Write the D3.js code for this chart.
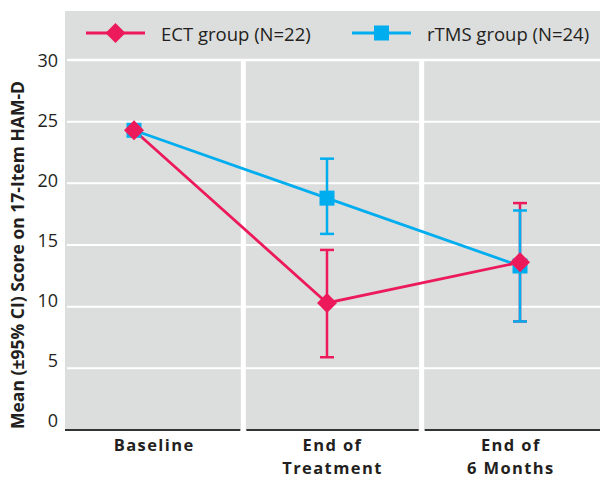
<!DOCTYPE html>
<html><head><meta charset="utf-8">
<script src="https://cdn.jsdelivr.net/npm/d3@7/dist/d3.min.js"></script>
<style>body{margin:0;background:#fff}svg{display:block}text{font-family:"Open Sans","Noto Sans",sans-serif;fill:#231f20}</style>
</head><body><svg id="c" width="600" height="479"></svg>
<script>
const categories = ["Baseline", "End of\nTreatment", "End of\n6 Months"];
const ectMean = [24.3, 10.3, 13.6];
const ectLow  = [24.3, 5.9, 8.8];
const ectHigh = [24.3, 14.6, 18.4];
const rtmsMean = [24.3, 18.8, 13.3];
const rtmsLow  = [24.3, 15.9, 8.8];
const rtmsHigh = [24.3, 22.0, 17.8];
const yTicks = [0, 5, 10, 15, 20, 25, 30];
const seriesNames = ["ECT group (N=22)", "rTMS group (N=24)"];

const svg = d3.select("#c");
const pLeft = 65, pRight = 600, pTop = 11, pBottom = 430;
const y = d3.scaleLinear().domain([0, 30]).range([pBottom, 60]);
const yLab = d3.scaleLinear().domain([0, 30]).range([421, 61]);
const band = d3.scaleBand().domain(categories).range([pLeft, pRight]).paddingInner(0);
const xp = d3.scalePoint().domain(categories).range([134, 520]);

const pink = "#ec1a5b", blue = "#00aeef";

svg.append("rect").attr("x", pLeft).attr("y", pTop).attr("width", pRight - pLeft).attr("height", pBottom - pTop).attr("fill", "#dcdddd");

svg.selectAll(".g").data(yTicks.filter(d => d > 0)).enter().append("line")
  .attr("x1", pLeft + 2).attr("x2", pRight).attr("y1", d => y(d)).attr("y2", d => y(d))
  .attr("stroke", "#fff").attr("stroke-width", d => d === 30 ? 2.5 : 2);

const seps = categories.slice(1).map(c => band(c));
svg.selectAll(".s").data(seps).enter().append("line")
  .attr("x1", d => d).attr("x2", d => d).attr("y1", y(30)).attr("y2", pBottom + 2)
  .attr("stroke", "#fff").attr("stroke-width", 5);

categories.forEach((c, i) => {
  const x0 = band(c) + (i === 0 ? 0 : 3), x1 = band(c) + band.bandwidth() - (i === categories.length - 1 ? 0 : 3);
  svg.append("line").attr("x1", x0).attr("x2", x1).attr("y1", pBottom).attr("y2", pBottom)
    .attr("stroke", "#333").attr("stroke-width", 2);
});

svg.selectAll(".yl").data(yTicks).enter().append("text")
  .attr("x", 58).attr("y", d => yLab(d)).attr("dy", "0.36em").attr("text-anchor", "end")
  .attr("font-size", 18).attr("fill", "#2a2a2a").text(d => d);

svg.append("text").attr("transform", `translate(24,${(85 + 425) / 2}) rotate(-90)`)
  .attr("text-anchor", "middle").attr("font-size", 17.5).attr("font-weight", "bold")
  .text("Mean (±95% CI) Score on 17-Item HAM-D");

categories.forEach(c => {
  const cx = band(c) + band.bandwidth() / 2;
  c.split("\n").forEach((ln, i) => svg.append("text").attr("x", cx).attr("y", 451 + i * 22.6)
    .attr("text-anchor", "middle").attr("font-size", 16.5).attr("font-weight", "bold")
    .attr("letter-spacing", 1.4).text(ln));
});

const line = d3.line().x((d, i) => xp(categories[i])).y(d => y(d));

function errorBars(lo, hi, color) {
  categories.forEach((c, i) => {
    if (hi[i] === lo[i]) return;
    const x = xp(c);
    svg.append("line").attr("x1", x).attr("x2", x).attr("y1", y(lo[i])).attr("y2", y(hi[i])).attr("stroke", color).attr("stroke-width", 2.5);
    [lo[i], hi[i]].forEach(v => svg.append("line").attr("x1", x - 7).attr("x2", x + 7).attr("y1", y(v)).attr("y2", y(v)).attr("stroke", color).attr("stroke-width", 2.5));
  });
}
function marker(g, x, yy, color, shape) {
  if (shape === "square") g.append("rect").attr("x", x - 7.5).attr("y", yy - 7.5).attr("width", 15).attr("height", 15).attr("fill", color);
  else g.append("path").attr("d", `M${x},${yy - 10}L${x + 10},${yy}L${x},${yy + 10}L${x - 10},${yy}Z`).attr("fill", color);
}
errorBars(ectLow, ectHigh, pink);
errorBars(rtmsLow, rtmsHigh, blue);
svg.append("path").datum(rtmsMean).attr("d", line).attr("fill", "none").attr("stroke", blue).attr("stroke-width", 2.8);
svg.append("path").datum(ectMean).attr("d", line).attr("fill", "none").attr("stroke", pink).attr("stroke-width", 2.8);
categories.forEach((c, i) => marker(svg, xp(c), y(rtmsMean[i]), blue, "square"));
categories.forEach((c, i) => marker(svg, xp(c), y(ectMean[i]), pink, "diamond"));

const leg = [{x: 86, color: pink, shape: "diamond"}, {x: 352, color: blue, shape: "square"}];
leg.forEach((l, i) => {
  svg.append("line").attr("x1", l.x).attr("x2", l.x + 59).attr("y1", 33).attr("y2", 33).attr("stroke", l.color).attr("stroke-width", 2.8);
  marker(svg, l.x + 29.5, 33, l.color, l.shape);
  svg.append("text").attr("x", l.x + 75).attr("y", 40.5).attr("font-size", 18.5).attr("fill", "#333").text(seriesNames[i]);
});
</script></body></html>
